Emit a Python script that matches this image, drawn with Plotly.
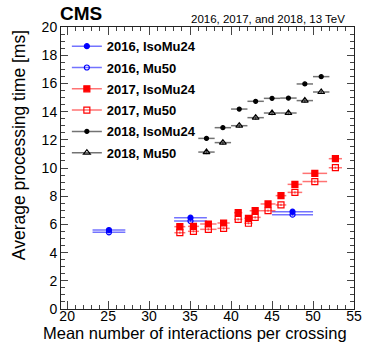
import plotly.graph_objects as go

# pileup bins and average times
x_2016 = [25.1, 35.05, 47.5]
xerr_2016 = [2.0, 2.0, 2.5]
y_2016_iso = [5.60, 6.48, 6.90]
y_2016_mu50 = [5.44, 6.24, 6.69]
yerr_2016 = [0.08, 0.08, 0.08]

x_2017 = [33.75, 35.41, 37.23, 39.09, 40.87, 42.12, 42.94, 44.51, 46.09, 47.79, 50.22, 52.73]
xerr_2017 = [0.67, 0.67, 1.0, 0.75, 0.5, 0.5, 0.67, 0.91, 0.65, 0.89, 1.5, 0.81]
y_2017_iso = [5.84, 5.86, 6.03, 6.10, 6.83, 6.43, 6.97, 7.45, 8.04, 8.84, 9.62, 10.66]
y_2017_mu50 = [5.41, 5.51, 5.65, 5.72, 6.36, 6.08, 6.50, 6.97, 7.38, 8.27, 9.04, 10.02]
yerr_2017 = [0.08, 0.08, 0.08, 0.08, 0.08, 0.08, 0.08, 0.08, 0.08, 0.08, 0.08, 0.08]

x_2018 = [37, 39, 41, 43, 45, 47, 49, 51]
xerr_2018 = [1, 1, 1, 1, 1, 1, 1, 1]
y_2018_iso = [12.10, 12.86, 14.18, 14.73, 14.94, 14.96, 15.96, 16.48]
y_2018_mu50 = [11.13, 11.80, 13.00, 13.57, 13.90, 13.90, 14.78, 15.39]
yerr_2018 = [0.15, 0.15, 0.15, 0.15, 0.15, 0.15, 0.15, 0.15]

FONT = "Liberation Sans, Arial, Helvetica, sans-serif"

series = [
    ("2016, IsoMu24", x_2016, xerr_2016, y_2016_iso, yerr_2016, "#0000ff", "rgba(0,0,255,0.55)", "circle", 5),
    ("2016, Mu50", x_2016, xerr_2016, y_2016_mu50, yerr_2016, "#0000ff", "rgba(0,0,255,0.55)", "circle-open", 5),
    ("2017, IsoMu24", x_2017, xerr_2017, y_2017_iso, yerr_2017, "#ff0000", "rgba(255,0,0,0.55)", "square", 6),
    ("2017, Mu50", x_2017, xerr_2017, y_2017_mu50, yerr_2017, "#ff0000", "rgba(255,0,0,0.55)", "square-open", 6),
    ("2018, IsoMu24", x_2018, xerr_2018, y_2018_iso, yerr_2018, "#000000", "rgba(0,0,0,0.55)", "circle", 4),
    ("2018, Mu50", x_2018, xerr_2018, y_2018_mu50, yerr_2018, "#000000", "rgba(0,0,0,0.55)", "triangle-up-open", 6),
]

fig = go.Figure()
for i, (name, xs, xe, ys, ye, color, light, symbol, size) in enumerate(series):
    fig.add_trace(
        go.Scatter(
            x=xs,
            y=ys,
            mode="markers",
            marker={"symbol": symbol, "size": size, "color": color, "line": {"width": 1.2, "color": color}},
            error_x={"type": "data", "array": xe, "color": light, "thickness": 1.5, "width": 0},
            error_y={"type": "data", "array": ye, "color": light, "thickness": 1.5, "width": 0},
            showlegend=False,
        )
    )
    # legend-only entry so the legend gets a line through the marker
    fig.add_trace(
        go.Scatter(
            x=[None],
            y=[None],
            mode="lines+markers",
            name=f"<b>{name}</b>",
            legendgroup=f"g{i}",
            line={"color": light, "width": 1.5},
            marker={"symbol": symbol, "size": size, "color": color, "line": {"width": 1.2, "color": color}},
        )
    )

axis_common = dict(
    showgrid=False,
    zeroline=False,
    showline=True,
    linecolor="#222222",
    linewidth=1,
    mirror="allticks",
    ticks="inside",
    tickcolor="#444444",
    tickfont={"size": 14, "color": "#000000"},
)

fig.update_xaxes(
    range=[19.25, 55],
    dtick=5,
    tick0=20,
    ticklen=8,
    ticklabelstandoff=-6,
    minor={"dtick": 1, "ticks": "inside", "ticklen": 4, "tickcolor": "#444444"},
    **axis_common,
)
fig.update_yaxes(
    range=[0, 20],
    dtick=2,
    ticklen=7,
    minor={"dtick": 0.5, "ticks": "inside", "ticklen": 4, "tickcolor": "#444444"},
    **axis_common,
)

fig.update_layout(
    width=374,
    height=363,
    margin={"l": 61, "r": 18, "t": 27, "b": 54},
    plot_bgcolor="white",
    paper_bgcolor="white",
    font={"family": FONT, "color": "#000000"},
    legend={
        "x": 0.02,
        "y": 0.985,
        "xanchor": "left",
        "yanchor": "top",
        "bgcolor": "rgba(0,0,0,0)",
        "font": {"size": 13},
        "tracegroupgap": 1.4,
        "itemwidth": 30,
    },
    annotations=[
        dict(text="<b>CMS</b>", xref="paper", yref="paper", x=-0.01, y=1.048,
             xanchor="left", yanchor="middle", showarrow=False, font={"size": 19}),
        dict(text="2016, 2017, and 2018, 13 TeV", xref="paper", yref="paper", x=0.975, y=1.03,
             xanchor="right", yanchor="middle", showarrow=False, font={"size": 11.5}),
        dict(text="Average processing time [ms]", xref="paper", yref="paper", x=-0.141, y=0.58,
             xanchor="center", yanchor="middle", textangle=-90, showarrow=False, font={"size": 17.5}),
        dict(text="Mean number of interactions per crossing", xref="paper", yref="paper", x=0.459, y=-0.085,
             xanchor="center", yanchor="middle", showarrow=False, font={"size": 16.5}),
    ],
)

# the page body has a default 8px margin; drop it so the figure sits at the corner
fig.write_html(
    "out.html",
    config={"displayModeBar": False},
    post_script="document.body.style.margin='0';",
)
